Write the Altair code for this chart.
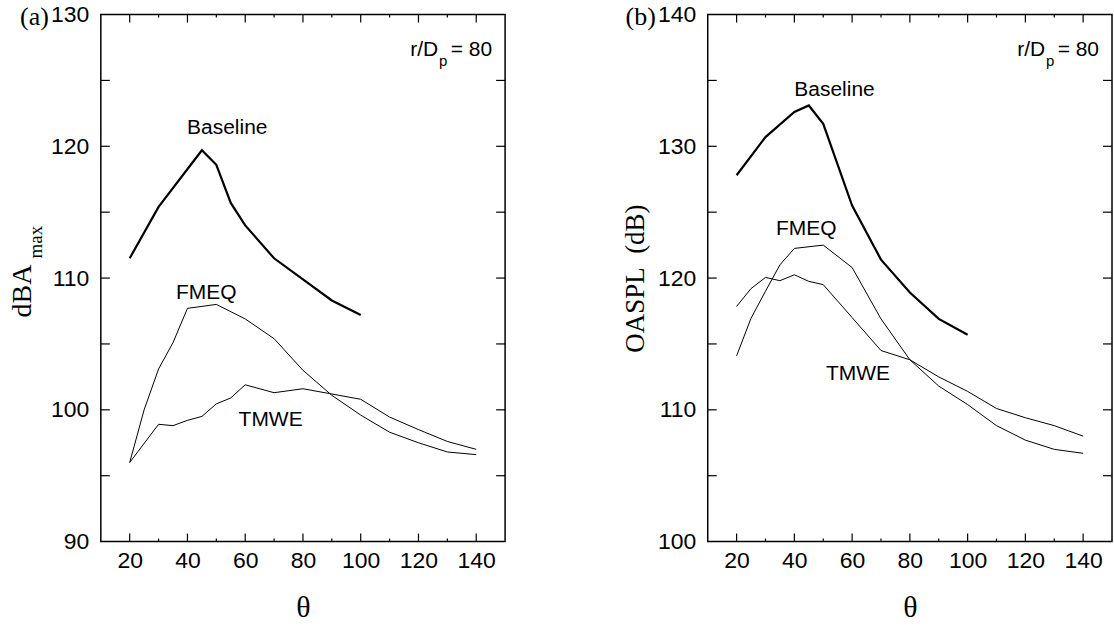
import altair as alt
import pandas as pd

# ---------------- data: panel (a) dBA_max ----------------
theta_base_a = [20, 30, 45, 50, 55, 60, 70, 80, 90, 100]
base_a = [111.5, 115.4, 119.7, 118.6, 115.7, 114.0, 111.5, 109.9, 108.3, 107.2]
theta_fmeq_a = [20, 25, 30, 35, 40, 50, 60, 70, 80, 90, 100, 110, 120, 130, 140]
fmeq_a = [96.0, 100.0, 103.1, 105.1, 107.7, 108.0, 106.9, 105.4, 103.0, 101.1, 99.6, 98.3, 97.5, 96.8, 96.6]
theta_tmwe_a = [20, 30, 35, 40, 45, 50, 55, 60, 70, 80, 90, 100, 110, 120, 130, 140]
tmwe_a = [96.0, 98.9, 98.8, 99.2, 99.5, 100.45, 100.9, 101.9, 101.3, 101.6, 101.2, 100.8, 99.45, 98.5, 97.6, 97.0]

# ---------------- data: panel (b) OASPL ----------------
theta_base_b = [20, 30, 40, 45, 50, 60, 70, 80, 90, 100]
base_b = [127.8, 130.7, 132.6, 133.1, 131.7, 125.5, 121.4, 118.9, 116.9, 115.7]
theta_fmeq_b = [20, 25, 30, 35, 40, 50, 60, 70, 80, 90, 100, 110, 120, 130, 140]
fmeq_b = [114.1, 116.95, 119.0, 121.0, 122.25, 122.5, 120.8, 116.9, 113.8, 111.8, 110.4, 108.8, 107.7, 107.0, 106.7]
theta_tmwe_b = [20, 25, 30, 35, 40, 45, 50, 60, 70, 80, 90, 100, 110, 120, 130, 140]
tmwe_b = [117.85, 119.2, 120.05, 119.8, 120.25, 119.75, 119.5, 117.0, 114.5, 113.8, 112.5, 111.4, 110.1, 109.4, 108.8, 108.0]

series_names = ["Baseline", "FMEQ", "TMWE"]

# curve labels (data coordinates)
label_theta_a = [53.8, 46.5, 68.8]
label_val_a = [121.4, 108.9, 99.2]
label_theta_b = [53.9, 44.1, 62.0]
label_val_b = [134.3, 123.7, 112.7]

# axes
x_domain = [10, 150]
x_major = [20, 40, 60, 80, 100, 120, 140]
x_minor = [30, 50, 70, 90, 110, 130]
y_domain_a = [90, 130]
y_major_a = [90, 100, 110, 120, 130]
y_ticks_a = [95, 100, 105, 110, 115, 120, 125]
y_domain_b = [100, 140]
y_major_b = [100, 110, 120, 130, 140]
y_ticks_b = [105, 110, 115, 120, 125, 130, 135]

W, H = 405, 528


def lines_df(thetas, vals):
    rows = []
    for name, th, vv in zip(series_names, thetas, vals):
        for t, v in zip(th, vv):
            rows.append({"series": name, "theta": t, "value": v})
    return pd.DataFrame(rows)


def panel(df, lab_t, lab_v, ydom, ymajor, yticks, ytitle, tag):
    xs = alt.Scale(domain=x_domain, nice=False, zero=False)
    ys = alt.Scale(domain=ydom, nice=False, zero=False)
    yaxis = alt.Axis(values=ymajor, format="d", labelFlush=False, labelOverlap=False,
                     title=ytitle)
    xaxis = alt.Axis(values=x_major, format="d", labelFlush=False, labelOverlap=False,
                     title="θ")

    thick = alt.Chart(df).transform_filter(alt.datum.series == "Baseline").mark_line(
        color="black", strokeWidth=2.2).encode(
        x=alt.X("theta:Q", scale=xs, axis=xaxis),
        y=alt.Y("value:Q", scale=ys, axis=yaxis),
        detail="series:N",
    )
    thin = alt.Chart(df).transform_filter(alt.datum.series != "Baseline").mark_line(
        color="black", strokeWidth=1.0).encode(
        x=alt.X("theta:Q", scale=xs, axis=xaxis),
        y=alt.Y("value:Q", scale=ys, axis=yaxis),
        detail="series:N",
    )

    lab_df = pd.DataFrame({"theta": lab_t, "value": lab_v, "label": series_names})
    labels = alt.Chart(lab_df).mark_text(font="Liberation Sans", fontSize=21, color="black",
                                         align="center", baseline="middle").encode(
        x=alt.X("theta:Q", scale=xs), y=alt.Y("value:Q", scale=ys), text="label:N")

    xmaj = pd.DataFrame({"theta": x_major})
    xmin = pd.DataFrame({"theta": x_minor})
    yt = pd.DataFrame({"value": yticks})
    layers = [thick, thin, labels]
    for d, ln in ((xmaj, 8), (xmin, 3)):
        layers.append(alt.Chart(d).mark_rule(color="black", strokeWidth=1.2).encode(
            x=alt.X("theta:Q", scale=xs), y=alt.value(H), y2=alt.value(H - ln)))
        layers.append(alt.Chart(d).mark_rule(color="black", strokeWidth=1.2).encode(
            x=alt.X("theta:Q", scale=xs), y=alt.value(0), y2=alt.value(ln)))
    layers.append(alt.Chart(yt).mark_rule(color="black", strokeWidth=1.2).encode(
        y=alt.Y("value:Q", scale=ys), x=alt.value(0), x2=alt.value(9)))
    layers.append(alt.Chart(yt).mark_rule(color="black", strokeWidth=1.2).encode(
        y=alt.Y("value:Q", scale=ys), x=alt.value(W), x2=alt.value(W - 9)))

    # r/Dp = 80 annotation
    ann = pd.DataFrame({"k": [0]})
    layers.append(alt.Chart(ann).mark_text(font="Liberation Sans", fontSize=21, color="black",
                                           align="right", baseline="alphabetic").encode(
        x=alt.value(W - 13), y=alt.value(42), text=alt.value("= 80")))
    layers.append(alt.Chart(ann).mark_text(font="Liberation Sans", fontSize=21, color="black",
                                           align="right", baseline="alphabetic").encode(
        x=alt.value(W - 67), y=alt.value(42), text=alt.value("r/D")))
    layers.append(alt.Chart(ann).mark_text(font="Liberation Sans", fontSize=15, color="black",
                                           align="center", baseline="alphabetic").encode(
        x=alt.value(W - 62), y=alt.value(52), text=alt.value("p")))
    # panel tag
    layers.append(alt.Chart(ann).mark_text(font="Liberation Serif", fontSize=26, color="black",
                                           align="right", baseline="middle").encode(
        x=alt.value(-52), y=alt.value(2), text=alt.value(tag)))
    return alt.layer(*layers).properties(width=W, height=H)


left = panel(lines_df([theta_base_a, theta_fmeq_a, theta_tmwe_a], [base_a, fmeq_a, tmwe_a]),
             label_theta_a, label_val_a, y_domain_a, y_major_a, y_ticks_a, None, "(a)")
# custom y title with subscript for panel (a)
ann0 = pd.DataFrame({"k": [0]})
ytit_main = alt.Chart(ann0).mark_text(font="Liberation Serif", fontSize=28, color="black",
                                      angle=270, align="center", baseline="middle").encode(
    x=alt.value(-78), y=alt.value(277), text=alt.value("dBA"))
ytit_sub = alt.Chart(ann0).mark_text(font="Liberation Serif", fontSize=19, color="black",
                                     angle=270, align="center", baseline="middle").encode(
    x=alt.value(-65), y=alt.value(228), text=alt.value("max"))
left = alt.layer(left, ytit_main, ytit_sub)

right = panel(lines_df([theta_base_b, theta_fmeq_b, theta_tmwe_b], [base_b, fmeq_b, tmwe_b]),
              label_theta_b, label_val_b, y_domain_b, y_major_b, y_ticks_b,
              "OASPL\u00a0\u00a0(dB)", "(b)")

chart = alt.hconcat(left, right, spacing=203, bounds="flush").properties(
    padding={"left": 8, "top": 2, "right": 0, "bottom": 0}
).configure_view(stroke="black", strokeWidth=1.5).configure_axis(
    grid=False, domain=False, ticks=False, tickSize=0,
    labelFont="Liberation Sans", labelFontSize=23, labelColor="black",
    titleFont="Liberation Serif", titleFontSize=28, titleFontWeight="normal", titleColor="black"
).configure_axisX(labelPadding=8, titlePadding=20, titleFontSize=30).configure_axisY(
    labelPadding=12, titlePadding=8, titleFontSize=27)

chart.save("out.html", embed_options={"renderer": "svg", "actions": False})
